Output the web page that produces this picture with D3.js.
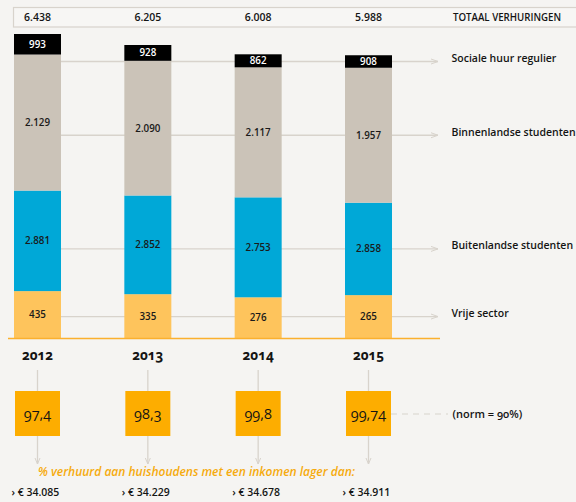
<!DOCTYPE html>
<html>
<head>
<meta charset="utf-8">
<script src="https://cdn.jsdelivr.net/npm/d3@7"></script>
<style>
  html, body { margin: 0; padding: 0; background: #f5f4f2; }
  svg { display: block; font-family: "Open Sans", "Noto Sans", sans-serif; }
</style>
</head>
<body>
<svg id="chart" width="576" height="502"></svg>
<script>
// ---- data ----
const years = ["2012", "2013", "2014", "2015"];
const totals = [6438, 6205, 6008, 5988];
const sociale = [993, 928, 862, 908];
const binnenland = [2129, 2090, 2117, 1957];
const buitenland = [2881, 2852, 2753, 2858];
const vrije = [435, 335, 276, 265];
const seriesKeys = ["sociale", "binnen", "buiten", "vrije"];
const seriesNames = ["Sociale huur regulier", "Binnenlandse studenten", "Buitenlandse studenten", "Vrije sector"];
const percentages = [97.4, 98.3, 99.8, 99.74];
const incomes = [34085, 34229, 34678, 34911];
const totalLabel = "TOTAAL VERHURINGEN";
const normLabel = "(norm = 90%)";
const footLabel = "% verhuurd aan huishoudens met een inkomen lager dan:";

// ---- styles ----
const colors = { sociale: "#000000", binnen: "#cbc3b8", buiten: "#00a8d7", vrije: "#fec45c" };
const labelColors = { sociale: "#ffffff", binnen: "#1a1a1a", buiten: "#1a1a1a", vrije: "#1a1a1a" };
const guide = "#d8d3cc";
const orange = "#fdad00";
const ink = "#141414";

const nl = d3.formatLocale({ decimal: ",", thousands: ".", grouping: [3], currency: ["€ ", ""] });
const fmtInt = nl.format(",d");
const fmtPct = v => String(v).replace(".", ",");

const svg = d3.select("#chart");

const rows = years.map((y, i) => ({
  year: y, total: totals[i],
  sociale: sociale[i], binnen: binnenland[i], buiten: buitenland[i], vrije: vrije[i]
}));

const x = d3.scaleBand().domain(years).range([14, 392]).paddingInner(0.574).paddingOuter(0);
const y = d3.scaleLinear().domain([0, d3.max(totals)]).range([338, 34]);

// The original graphic sizes the segments in reverse order of their labels:
// stacking the values with "sociale" at the bottom gives the drawn bands,
// which are then coloured/labelled bottom-to-top as vrije, buiten, binnen, sociale.
const stackOrder = ["sociale", "binnen", "buiten", "vrije"];
const displayBottomToTop = ["vrije", "buiten", "binnen", "sociale"];
const stacked = d3.stack().keys(stackOrder)(rows);

const segments = [];
stacked.forEach((layer, k) => {
  const key = displayBottomToTop[k];
  layer.forEach((d, i) => {
    segments.push({ key, year: years[i], y0: d[0], y1: d[1], value: rows[i][key] });
  });
});

// ---- header box ----
svg.append("rect").attr("x", 13.5).attr("y", 7.5).attr("width", 580).attr("height", 19.5)
  .attr("fill", "#f7f6f4").attr("stroke", guide).attr("stroke-width", 1.2);
svg.append("g").selectAll("text").data(rows).join("text")
  .attr("x", d => x(d.year) + x.bandwidth() / 2).attr("y", 21)
  .attr("text-anchor", "middle").attr("font-size", 10.5).attr("font-weight", 600).attr("fill", ink)
  .text(d => fmtInt(d.total));
svg.append("text").attr("x", 453).attr("y", 21).attr("font-size", 10).attr("font-weight", 600)
  .attr("fill", ink).attr("textLength", 108).attr("lengthAdjust", "spacingAndGlyphs").text(totalLabel);

// ---- guide lines (at the band centres of the last year) ----
const last = years[years.length - 1];
const guideY = {};
segments.filter(s => s.year === last).forEach(s => { guideY[s.key] = (y(s.y0) + y(s.y1)) / 2; });
const xLineEnd = 438;
const gGuide = svg.append("g");
seriesKeys.forEach((key, i) => {
  const gy = guideY[key];
  gGuide.append("line").attr("x1", 14).attr("x2", xLineEnd).attr("y1", gy).attr("y2", gy)
    .attr("stroke", guide).attr("stroke-width", 1.3);
  gGuide.append("path").attr("d", `M${xLineEnd - 7},${gy - 2.5}L${xLineEnd},${gy}L${xLineEnd - 7},${gy + 2.5}`)
    .attr("fill", "none").attr("stroke", guide).attr("stroke-width", 1);
  svg.append("text").attr("x", 451.5).attr("y", gy + 0.5).attr("font-size", 10.5)
    .attr("fill", ink).attr("font-weight", 600).text(seriesNames[i]);
});

// ---- bars ----
svg.append("g").selectAll("rect").data(segments).join("rect")
  .attr("x", d => x(d.year)).attr("width", x.bandwidth())
  .attr("y", d => y(d.y1)).attr("height", d => y(d.y0) - y(d.y1))
  .attr("fill", d => colors[d.key]);
svg.append("g").selectAll("text").data(segments).join("text")
  .attr("x", d => x(d.year) + x.bandwidth() / 2)
  .attr("y", d => (y(d.y0) + y(d.y1)) / 2 + 3.5)
  .attr("text-anchor", "middle").attr("font-size", 9.8).attr("font-weight", 600)
  .attr("fill", d => labelColors[d.key]).text(d => fmtInt(d.value));

// ---- baseline ----
svg.append("line").attr("x1", 8).attr("x2", 440).attr("y1", 338.5).attr("y2", 338.5)
  .attr("stroke", "#fbb02e").attr("stroke-width", 1.5);

// ---- years ----
svg.append("g").selectAll("text").data(years).join("text")
  .attr("x", d => x(d) + x.bandwidth() / 2).attr("y", 359.5)
  .attr("text-anchor", "middle").attr("font-size", 13.5).attr("font-weight", 700)
  .attr("fill", ink).style("font-variant-numeric", "oldstyle-nums").text(d => d);

// ---- percentage boxes ----
const boxTop = 391, boxSize = 45;
const gBox = svg.append("g");
years.forEach((yr, i) => {
  const cx = x(yr) + x.bandwidth() / 2;
  gBox.append("line").attr("x1", cx).attr("x2", cx).attr("y1", 370).attr("y2", boxTop)
    .attr("stroke", guide).attr("stroke-width", 1.3);
  gBox.append("line").attr("x1", cx).attr("x2", cx).attr("y1", boxTop + boxSize).attr("y2", 464)
    .attr("stroke", guide).attr("stroke-width", 1.3);
  gBox.append("path").attr("d", `M${cx - 2.5},${458}L${cx},${464}L${cx + 2.5},${458}`)
    .attr("fill", "none").attr("stroke", guide).attr("stroke-width", 1);
  gBox.append("rect").attr("x", cx - boxSize / 2).attr("y", boxTop)
    .attr("width", boxSize).attr("height", boxSize).attr("fill", orange);
  gBox.append("text").attr("x", cx).attr("y", boxTop + boxSize / 2 + 5)
    .attr("text-anchor", "middle").attr("font-size", 14.5).attr("fill", ink)
    .style("font-variant-numeric", "oldstyle-nums").text(fmtPct(percentages[i]));
  svg.append("text").attr("x", x(yr) - 2.5).attr("y", 496).attr("font-size", 10.5).attr("font-weight", 600)
    .attr("fill", ink).text("› € " + fmtInt(incomes[i]));
});

// norm dashed line
const lastCx = x(last) + x.bandwidth() / 2;
svg.append("line").attr("x1", lastCx + boxSize / 2).attr("x2", 448)
  .attr("y1", boxTop + boxSize / 2 + 0.5).attr("y2", boxTop + boxSize / 2 + 0.5)
  .attr("stroke", guide).attr("stroke-width", 1.2).attr("stroke-dasharray", "6,5");
svg.append("text").attr("x", 452.5).attr("y", boxTop + boxSize / 2 + 4.5).attr("font-size", 11)
  .attr("font-weight", 600).attr("fill", ink).style("font-variant-numeric", "oldstyle-nums").text(normLabel);

// foot label
svg.append("text").attr("x", 38).attr("y", 476).attr("font-size", 12).attr("font-style", "italic")
  .attr("font-weight", 600).attr("fill", "#f6ab0e").text(footLabel);
</script>
</body>
</html>
